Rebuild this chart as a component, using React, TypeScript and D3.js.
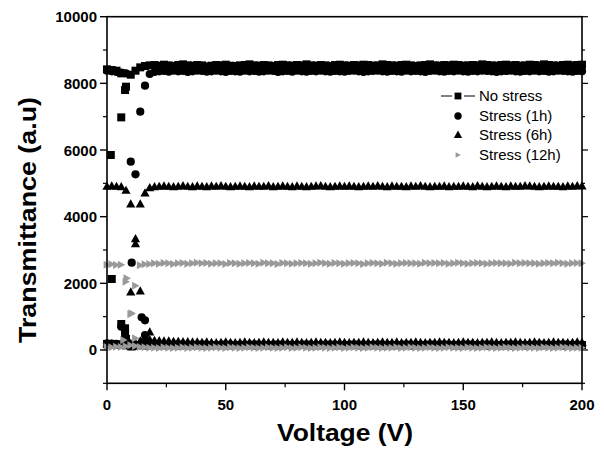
import React from "react";
import * as d3 from "d3";

const volts = [
  0, 2, 4, 6, 8, 10, 12, 14, 16, 18,
  20, 22, 24, 26, 28, 30, 32, 34, 36, 38,
  40, 42, 44, 46, 48, 50, 52, 54, 56, 58,
  60, 62, 64, 66, 68, 70, 72, 74, 76, 78,
  80, 82, 84, 86, 88, 90, 92, 94, 96, 98,
  100, 102, 104, 106, 108, 110, 112, 114, 116, 118,
  120, 122, 124, 126, 128, 130, 132, 134, 136, 138,
  140, 142, 144, 146, 148, 150, 152, 154, 156, 158,
  160, 162, 164, 166, 168, 170, 172, 174, 176, 178,
  180, 182, 184, 186, 188, 190, 192, 194, 196, 198,
  200,
];

const noStressHigh = [
  8420, 8400, 8380, 8300, 7900, 8260, 8380, 8480, 8520, 8540,
  8550, 8530, 8560, 8540, 8520, 8550, 8570, 8540, 8530, 8550,
  8540, 8510, 8530, 8550, 8540, 8560, 8530, 8520, 8540, 8550,
  8570, 8540, 8530, 8550, 8540, 8520, 8550, 8560, 8540, 8530,
  8550, 8540, 8570, 8540, 8530, 8550, 8540, 8520, 8550, 8560,
  8540, 8530, 8550, 8540, 8560, 8550, 8530, 8540, 8570, 8550,
  8540, 8530, 8550, 8560, 8540, 8520, 8540, 8550, 8570, 8540,
  8530, 8550, 8540, 8560, 8550, 8530, 8540, 8550, 8540, 8570,
  8550, 8540, 8530, 8550, 8560, 8540, 8550, 8530, 8540, 8560,
  8550, 8540, 8570, 8550, 8540, 8530, 8550, 8560, 8540, 8550,
  8560,
];
const noStressLow = [
  180, 170, 160, 150, 140, 110, 130, 150, 150, 160,
  150, 160, 150, 140, 150, 160, 150, 150, 140, 150,
  160, 150, 150, 140, 150, 160, 150, 140, 150, 150,
  150, 160, 150, 150, 140, 150, 160, 150, 150, 140,
  150, 150, 160, 150, 140, 150, 150, 160, 150, 150,
  140, 150, 160, 150, 150, 140, 150, 160, 150, 150,
  150, 140, 150, 160, 150, 150, 140, 150, 160, 150,
  150, 160, 150, 140, 150, 150, 160, 150, 140, 150,
  160, 150, 150, 140, 150, 160, 150, 150, 140, 150,
  150, 160, 150, 150, 140, 150, 160, 150, 150, 140,
  150,
];
const noStressExtraV = [1.6, 2, 6, 7.6, 7.6, 6, 7.6, 8, 10.5];
const noStressExtraT = [5850, 2130, 6980, 7800, 650, 780, 500, 330, 110];

const stress1hHigh = [
  8380, 8360, 8340, 8320, 8300, 5650, 5270, 7150, 7930, 8280,
  8340, 8360, 8370, 8350, 8380, 8360, 8370, 8340, 8360, 8380,
  8370, 8350, 8360, 8380, 8360, 8340, 8370, 8360, 8350, 8380,
  8360, 8370, 8350, 8360, 8380, 8370, 8340, 8360, 8370, 8350,
  8380, 8360, 8350, 8370, 8360, 8380, 8360, 8350, 8370, 8360,
  8350, 8370, 8380, 8360, 8340, 8360, 8370, 8380, 8360, 8350,
  8370, 8360, 8350, 8380, 8360, 8370, 8360, 8340, 8370, 8380,
  8360, 8350, 8370, 8360, 8380, 8360, 8350, 8370, 8360, 8380,
  8370, 8360, 8340, 8360, 8370, 8380, 8360, 8350, 8370, 8360,
  8380, 8360, 8370, 8350, 8360, 8380, 8370, 8360, 8350, 8370,
  8360,
];
const stress1hLow = [
  200, 190, 180, 170, 160, 150, 140, 140, 130, 140,
  140, 130, 140, 150, 140, 130, 140, 140, 150, 140,
  130, 140, 140, 150, 140, 130, 140, 150, 140, 140,
  140, 130, 140, 150, 140, 140, 130, 140, 150, 140,
  140, 150, 140, 130, 140, 140, 150, 140, 130, 140,
  150, 140, 140, 130, 140, 150, 140, 140, 130, 140,
  140, 150, 140, 140, 130, 140, 150, 140, 140, 130,
  140, 140, 150, 140, 130, 140, 140, 150, 140, 140,
  130, 140, 150, 140, 140, 130, 140, 150, 140, 140,
  140, 130, 140, 150, 140, 140, 130, 140, 150, 140,
  140,
];
const stress1hExtraV = [10.4, 14.6, 16, 16, 6];
const stress1hExtraT = [2620, 980, 890, 450, 700];

const stress6hHigh = [
  4900, 4910, 4900, 4890, 4780, 4370, 3330, 4370, 4700, 4860,
  4890, 4900, 4910, 4900, 4890, 4900, 4920, 4900, 4890, 4910,
  4900, 4890, 4910, 4900, 4920, 4900, 4890, 4900, 4910, 4900,
  4890, 4910, 4900, 4900, 4920, 4890, 4900, 4910, 4900, 4890,
  4910, 4900, 4890, 4900, 4910, 4920, 4900, 4890, 4900, 4910,
  4900, 4910, 4900, 4890, 4900, 4910, 4900, 4920, 4900, 4890,
  4910, 4900, 4900, 4890, 4910, 4900, 4920, 4900, 4890, 4900,
  4900, 4910, 4890, 4900, 4900, 4910, 4900, 4890, 4920, 4900,
  4890, 4900, 4910, 4900, 4890, 4910, 4900, 4900, 4920, 4910,
  4900, 4890, 4900, 4910, 4900, 4900, 4890, 4910, 4900, 4920,
  4910,
];
const stress6hLow = [
  180, 170, 160, 170, 180, 190, 200, 260, 330, 300,
  280, 270, 260, 260, 250, 250, 240, 240, 235, 230,
  220, 230, 220, 210, 220, 230, 220, 210, 220, 230,
  220, 210, 220, 230, 220, 220, 210, 230, 220, 220,
  230, 220, 210, 220, 230, 220, 220, 210, 220, 230,
  220, 210, 220, 220, 230, 220, 210, 220, 230, 220,
  220, 230, 210, 220, 220, 230, 220, 210, 220, 220,
  230, 220, 220, 210, 220, 230, 220, 220, 210, 220,
  220, 230, 220, 210, 220, 220, 230, 220, 210, 220,
  230, 220, 210, 220, 230, 220, 220, 210, 220, 230,
  220,
];
const stress6hExtraV = [12, 10, 14, 18, 16];
const stress6hExtraT = [3180, 1730, 1760, 530, 400];

const stress12hHigh = [
  2560, 2570, 2550, 2560, 2050, 1070, 1930, 2540, 2570, 2580,
  2600, 2590, 2610, 2600, 2580, 2600, 2610, 2590, 2600, 2620,
  2600, 2610, 2590, 2600, 2600, 2580, 2610, 2600, 2590, 2600,
  2610, 2600, 2590, 2620, 2600, 2600, 2580, 2610, 2600, 2590,
  2600, 2610, 2600, 2590, 2600, 2620, 2600, 2590, 2610, 2600,
  2590, 2600, 2610, 2600, 2580, 2600, 2610, 2600, 2590, 2620,
  2600, 2590, 2600, 2610, 2600, 2600, 2590, 2620, 2600, 2610,
  2600, 2610, 2590, 2600, 2620, 2600, 2590, 2600, 2610, 2600,
  2590, 2600, 2610, 2600, 2600, 2590, 2620, 2600, 2610, 2600,
  2600, 2590, 2600, 2610, 2600, 2620, 2600, 2590, 2600, 2610,
  2600,
];
const stress12hLow = [
  90, 80, 100, 90, 110, 140, 120, 90, 80, 70,
  70, 60, 80, 70, 60, 70, 80, 60, 70, 80,
  70, 60, 70, 80, 70, 60, 80, 70, 60, 70,
  80, 70, 60, 70, 80, 70, 60, 70, 80, 60,
  70, 80, 70, 60, 70, 80, 70, 60, 70, 80,
  60, 70, 80, 70, 60, 70, 80, 70, 60, 70,
  70, 80, 60, 70, 80, 70, 60, 70, 80, 70,
  60, 70, 80, 70, 70, 60, 80, 70, 60, 70,
  80, 70, 60, 70, 80, 70, 60, 70, 80, 70,
  70, 60, 80, 70, 60, 70, 80, 70, 60, 70,
  70,
];
const stress12hExtraV = [8.4, 10.5, 12, 7];
const stress12hExtraT = [2150, 1100, 350, 300];

const seriesNames = ["No stress", "Stress (1h)", "Stress (6h)", "Stress (12h)"];
const yTicks = [0, 2000, 4000, 6000, 8000, 10000];
const yMinorTicks = [-1000, 1000, 3000, 5000, 7000, 9000];
const xTicks = [0, 50, 100, 150, 200];
const xMinorTicks = [25, 75, 125, 175];

const FONT = "'Liberation Sans', Arial, Helvetica, sans-serif";
const GREY = "#999999";

type Shape = "square" | "circle" | "triangle" | "tright";

function Marker({ shape, x, y, fill, s = 1 }: { shape: Shape; x: number; y: number; fill: string; s?: number }) {
  if (shape === "square") return <rect x={x - 4 * s} y={y - 4 * s} width={8 * s} height={8 * s} fill={fill} />;
  if (shape === "circle") return <circle cx={x} cy={y} r={4.1 * s} fill={fill} />;
  if (shape === "triangle")
    return <path d={`M${x},${y - 5 * s}L${x + 4.6 * s},${y + 3.2 * s}L${x - 4.6 * s},${y + 3.2 * s}Z`} fill={fill} />;
  return <path d={`M${x - 3.4 * s},${y - 4 * s}L${x + 4 * s},${y}L${x - 3.4 * s},${y + 4 * s}Z`} fill={fill} />;
}

export default function App() {
  const left = 107, right = 582, top = 16.7, bottom = 383.3;
  const x = d3.scaleLinear().domain([0, 200]).range([left, right]);
  const y = d3.scaleLinear().domain([-1000, 10000]).range([bottom, top]);

  const series: { shape: Shape; fill: string; high: number[]; low: number[]; ev: number[]; et: number[] }[] = [
    { shape: "square", fill: "#000", high: noStressHigh, low: noStressLow, ev: noStressExtraV, et: noStressExtraT },
    { shape: "circle", fill: "#000", high: stress1hHigh, low: stress1hLow, ev: stress1hExtraV, et: stress1hExtraT },
    { shape: "triangle", fill: "#000", high: stress6hHigh, low: stress6hLow, ev: stress6hExtraV, et: stress6hExtraT },
    { shape: "tright", fill: GREY, high: stress12hHigh, low: stress12hLow, ev: stress12hExtraV, et: stress12hExtraT },
  ];

  const legendY = [96, 116, 135, 155];
  const legendScale = [0.85, 0.9, 0.9, 0.7];

  return (
    <svg width={604} height={459} style={{ position: "absolute", left: 0, top: 0, background: "#fff" }}>
      <rect x={0} y={0} width={604} height={459} fill="#fff" />
      {series.map((s, si) => (
        <g key={si}>
          {volts.map((v, i) => (
            <Marker key={"l" + i} shape={s.shape} x={x(v)} y={y(s.low[i])} fill={s.fill} />
          ))}
          {volts.map((v, i) => (
            <Marker key={"h" + i} shape={s.shape} x={x(v)} y={y(s.high[i])} fill={s.fill} />
          ))}
          {s.ev.map((v, i) => (
            <Marker key={"e" + i} shape={s.shape} x={x(v)} y={y(s.et[i])} fill={s.fill} />
          ))}
        </g>
      ))}

      {/* frame */}
      <rect x={left} y={top} width={right - left} height={bottom - top} fill="none" stroke="#000" strokeWidth={1.6} />

      {/* y ticks */}
      {yTicks.map((t) => (
        <g key={"yt" + t}>
          <line x1={left - 7} x2={left} y1={y(t)} y2={y(t)} stroke="#000" strokeWidth={1.4} />
          <line x1={right} x2={right + 6} y1={y(t)} y2={y(t)} stroke="#000" strokeWidth={1.2} />
          <text x={left - 10} y={y(t) + 5.5} textAnchor="end" fontFamily={FONT} fontWeight="bold" fontSize={15}>
            {t}
          </text>
        </g>
      ))}
      {yMinorTicks.map((t) => (
        <g key={"ym" + t}>
          <line x1={left - 4} x2={left} y1={y(t)} y2={y(t)} stroke="#000" strokeWidth={1.2} />
          <line x1={right} x2={right + 3} y1={y(t)} y2={y(t)} stroke="#000" strokeWidth={1.2} />
        </g>
      ))}

      {/* x ticks */}
      {xTicks.map((t) => (
        <g key={"xt" + t}>
          <line x1={x(t)} x2={x(t)} y1={bottom} y2={bottom + 7} stroke="#000" strokeWidth={1.4} />
          <text x={x(t)} y={410} textAnchor="middle" fontFamily={FONT} fontWeight="bold" fontSize={15}>
            {t}
          </text>
        </g>
      ))}
      {xMinorTicks.map((t) => (
        <line key={"xm" + t} x1={x(t)} x2={x(t)} y1={bottom} y2={bottom + 4} stroke="#000" strokeWidth={1.2} />
      ))}

      {/* axis titles */}
      <text
        x={345}
        y={441}
        textAnchor="middle"
        fontFamily={FONT}
        fontWeight="bold"
        fontSize={24}
        textLength={136}
        lengthAdjust="spacingAndGlyphs"
      >
        Voltage (V)
      </text>
      <text
        transform="translate(36,220) rotate(-90)"
        textAnchor="middle"
        fontFamily={FONT}
        fontWeight="bold"
        fontSize={24}
        textLength={246}
        lengthAdjust="spacingAndGlyphs"
      >
        Transmittance (a.u)
      </text>

      {/* legend */}
      <line x1={441} x2={452} y1={legendY[0]} y2={legendY[0]} stroke="#000" strokeWidth={1} />
      <line x1={464} x2={475} y1={legendY[0]} y2={legendY[0]} stroke="#000" strokeWidth={1} />
      {series.map((s, i) => (
        <g key={"lg" + i}>
          <Marker shape={s.shape} x={458} y={legendY[i]} fill={s.fill} s={legendScale[i]} />
          <text x={479} y={legendY[i] + 5} fontFamily={FONT} fontSize={15}>
            {seriesNames[i]}
          </text>
        </g>
      ))}
    </svg>
  );
}
